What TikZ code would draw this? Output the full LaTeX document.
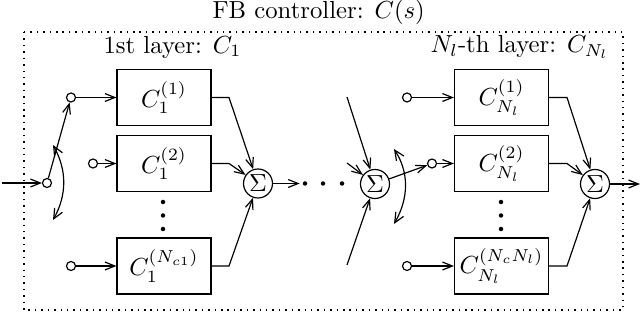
\documentclass[tikz,border=0pt]{standalone}
\usetikzlibrary{arrows.meta}
\begin{document}
\begin{tikzpicture}[x=0.405pt,y=-0.405pt,line width=0.48pt,
  arr/.style={-{Straight Barb[length=4pt,width=3.2pt]}},
  darr/.style={{Straight Barb[length=4pt,width=3.6pt]}-{Straight Barb[length=4pt,width=3.6pt]}},
  blk/.style={draw,minimum width=94*0.405pt,minimum height=56*0.405pt,inner sep=0pt},
  sumn/.style={draw,circle,minimum size=29*0.405pt,inner sep=0pt},
  term/.style={draw,circle,minimum size=9*0.405pt,inner sep=0pt},
  dotn/.style={fill,circle,minimum size=4.5*0.405pt,inner sep=0pt}]
\useasboundingbox (0,0) rectangle (640,322);
% frame and labels
\draw[dotted,line width=0.6pt] (24,32) rectangle (623,310);
\node[anchor=west,inner sep=0pt] (title) at (212,12) {FB controller: $C(s)$};
\node[anchor=west,inner sep=0pt] (lab1) at (103,47) {1st layer: $C_1$};
\node[anchor=west,inner sep=0pt] (lab2) at (430,47) {$N_l$-th layer: $C_{N_l}$};
% first layer
\node[blk] (b11) at (164,97.5) {$C_1^{(1)}$};
\node[blk] (b12) at (164,163.5) {$C_1^{(2)}$};
\node[blk] (b13) at (164,266) {$C_1^{(N_{c1})}$};
\node[dotn] (v11) at (163,202) {};
\node[dotn] (v12) at (163,215.5) {};
\node[dotn] (v13) at (163,229) {};
\node[term] (cin) at (47,183) {};
\node[term] (c11) at (71,97.5) {};
\node[term] (c12) at (93,163.5) {};
\node[term] (c13) at (71,266) {};
\node[sumn] (s1) at (258,183.5) {$\Sigma$};
\coordinate (in) at (2,183);
\draw[arr] (in) -- (cin);
\draw[arr] (cin) -- (c11);
\draw[darr] (53,145) .. controls (67,170) and (67,195) .. (53,220);
\draw[arr] (c11) -- (b11);
\draw[arr] (c12) -- (b12);
\draw[arr] (c13) -- (b13);
\coordinate (k11) at (229,97.5);
\coordinate (k12) at (229,163.5);
\coordinate (k13) at (229,266);
\draw[arr] (b11.east) -- (k11) -- (s1);
\draw[arr] (b12.east) -- (k12) -- (s1);
\draw[arr] (b13.east) -- (k13) -- (s1);
% dots between layers
\node[dotn] (d1) at (305,183.5) {};
\node[dotn] (d2) at (323,183.5) {};
\node[dotn] (d3) at (342,183.5) {};
\draw[arr,shorten >=1pt] (s1) -- (d1);
% N_l-th layer
\node[sumn] (s2) at (375,184) {$\Sigma$};
\coordinate (e1) at (347,97);
\coordinate (e2) at (347,163);
\coordinate (e3) at (347,265);
\draw[arr] (e1) -- (s2);
\draw[arr] (e2) -- (s2);
\draw[arr] (e3) -- (s2);
\node[blk] (bN1) at (501.5,97.5) {$C_{N_l}^{(1)}$};
\node[blk] (bN2) at (501.5,163.5) {$C_{N_l}^{(2)}$};
\node[blk] (bN3) at (501.5,266) {$C_{N_l}^{(N_{c}N_l)}$};
\node[dotn] (w1) at (501,202) {};
\node[dotn] (w2) at (501,215.5) {};
\node[dotn] (w3) at (501,229) {};
\node[term] (cN1) at (407,97.5) {};
\node[term] (cN2) at (432,163.5) {};
\node[term] (cN3) at (407,266) {};
\draw[arr] (s2) -- (cN2);
\draw[darr] (394,149) .. controls (409,172) and (409,198) .. (394,224);
\draw[arr] (cN1) -- (bN1);
\draw[arr] (cN2) -- (bN2);
\draw[arr] (cN3) -- (bN3);
\node[sumn] (s3) at (595,184) {$\Sigma$};
\coordinate (kN1) at (567,97.5);
\coordinate (kN2) at (567,163.5);
\coordinate (kN3) at (567,266);
\draw[arr] (bN1.east) -- (kN1) -- (s3);
\draw[arr] (bN2.east) -- (kN2) -- (s3);
\draw[arr] (bN3.east) -- (kN3) -- (s3);
\coordinate (out) at (640,184);
\draw[arr] (s3) -- (out);
\end{tikzpicture}
\end{document}
